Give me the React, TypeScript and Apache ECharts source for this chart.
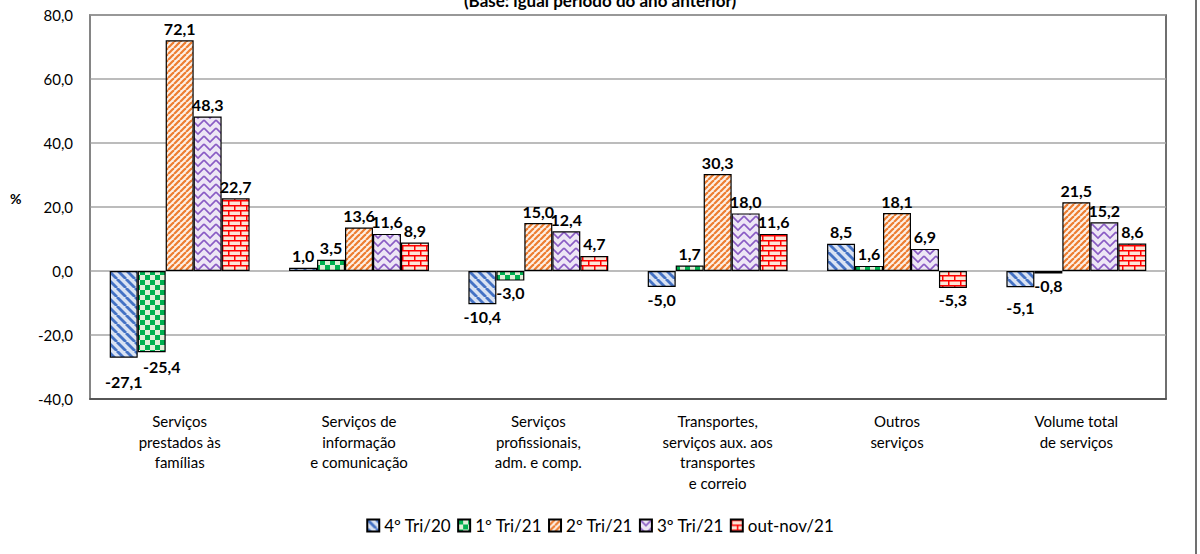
import React, { useEffect, useRef } from "react";
import * as echarts from "echarts";

const categories = [
  "Serviços\nprestados às\nfamílias",
  "Serviços de\ninformação\ne comunicação",
  "Serviços\nprofissionais,\nadm. e comp.",
  "Transportes,\nserviços aux. aos\ntransportes\ne correio",
  "Outros\nserviços",
  "Volume total\nde serviços",
];

const seriesNames = ["4º Tri/20", "1º Tri/21", "2º Tri/21", "3º Tri/21", "out-nov/21"];

const tri4_20 = [-27.1, 1.0, -10.4, -5.0, 8.5, -5.1];
const tri1_21 = [-25.4, 3.5, -3.0, 1.7, 1.6, -0.8];
const tri2_21 = [72.1, 13.6, 15.0, 30.3, 18.1, 21.5];
const tri3_21 = [48.3, 11.6, 12.4, 18.0, 6.9, 15.2];
const outNov21 = [22.7, 8.9, 4.7, 11.6, -5.3, 8.6];

const yTicks = { min: -40, max: 80, interval: 20 };
const titleText = "(Base: igual período do ano anterior)";
const yName = "%";

const FONT = "Lato, 'Noto Sans', sans-serif";

// manual label nudges seen in the reference: [seriesIndex, categoryIndex, dx, dy]
const labelNudges: [number, number, number, number][] = [
  [0, 0, 0, 12],
  [1, 0, 10, 2],
  [0, 5, 0, 8],
];

function makeCanvas(w: number, h: number, draw: (c: CanvasRenderingContext2D) => void) {
  const cv = document.createElement("canvas");
  cv.width = w;
  cv.height = h;
  const ctx = cv.getContext("2d")!;
  draw(ctx);
  return cv;
}

function patterns() {
  const blue = makeCanvas(9, 9, (c) => {
    c.fillStyle = "#dae3f3";
    c.fillRect(0, 0, 9, 9);
    c.strokeStyle = "#4472c4";
    c.lineWidth = 2.8;
    for (let k = -1; k <= 1; k++) {
      c.beginPath();
      c.moveTo(k * 9, 0);
      c.lineTo(k * 9 + 9, 9);
      c.stroke();
    }
  });
  const green = makeCanvas(10, 10, (c) => {
    c.fillStyle = "#e2f0d9";
    c.fillRect(0, 0, 10, 10);
    c.fillStyle = "#00b050";
    c.fillRect(0, 0, 5, 5);
    c.fillRect(5, 5, 5, 5);
  });
  const orange = makeCanvas(6, 6, (c) => {
    c.fillStyle = "#fdf0e6";
    c.fillRect(0, 0, 6, 6);
    c.strokeStyle = "#ed7d31";
    c.lineWidth = 2.2;
    for (let k = -1; k <= 1; k++) {
      c.beginPath();
      c.moveTo(k * 6, 6);
      c.lineTo(k * 6 + 6, 0);
      c.stroke();
    }
  });
  const purple = makeCanvas(12, 8, (c) => {
    c.fillStyle = "#ede6f5";
    c.fillRect(0, 0, 12, 8);
    c.strokeStyle = "#8a5cc4";
    c.lineWidth = 1.6;
    for (let r = -1; r <= 1; r++) {
      c.beginPath();
      c.moveTo(0, r * 8);
      c.lineTo(6, r * 8 + 6);
      c.lineTo(12, r * 8);
      c.stroke();
    }
  });
  const red = makeCanvas(12, 10, (c) => {
    c.fillStyle = "#fce4d6";
    c.fillRect(0, 0, 12, 10);
    c.strokeStyle = "#ff0000";
    c.lineWidth = 1.5;
    c.beginPath();
    c.moveTo(0, 0.75);
    c.lineTo(12, 0.75);
    c.moveTo(0, 5.75);
    c.lineTo(12, 5.75);
    c.moveTo(0.75, 0);
    c.lineTo(0.75, 5.75);
    c.moveTo(6.75, 5.75);
    c.lineTo(6.75, 10);
    c.stroke();
  });
  return [blue, green, orange, purple, red];
}

const fmt = (v: number) => v.toFixed(1).replace(".", ",");

export default function App() {
  const ref = useRef<HTMLDivElement>(null);
  useEffect(() => {
    if (!ref.current) return;
    const chart = echarts.init(ref.current, null, { renderer: "svg" });
    const pats = patterns();
    const data = [tri4_20, tri1_21, tri2_21, tri3_21, outNov21];
    chart.setOption({
      animation: false,
      textStyle: { fontFamily: FONT },
      grid: {
        left: 90,
        right: 34,
        top: 15,
        bottom: 155,
        show: true,
        borderColor: "#404040",
        borderWidth: 1.5,
      },
      legend: {
        top: 512,
        left: "center",
        icon: "rect",
        itemWidth: 12,
        itemHeight: 12,
        itemGap: 6,
        textStyle: { fontSize: 17, color: "#000", fontFamily: FONT },
        data: seriesNames,
      },
      xAxis: {
        type: "category",
        data: categories,
        axisLine: { onZero: false, lineStyle: { color: "#404040", width: 1.5 } },
        axisTick: { show: false },
        axisLabel: {
          interval: 0,
          fontSize: 15,
          lineHeight: 20.5,
          color: "#000",
          margin: 12,
          fontFamily: FONT,
        },
      },
      yAxis: {
        type: "value",
        min: yTicks.min,
        max: yTicks.max,
        interval: yTicks.interval,
        axisLine: { show: true, lineStyle: { color: "#8c8c8c", width: 1.5 } },
        axisTick: { show: false },
        splitLine: { lineStyle: { color: "#a6a6a6", width: 1.5 } },
        axisLabel: {
          formatter: (v: number) => fmt(v),
          fontSize: 15,
          color: "#000",
          margin: 17,
          fontFamily: FONT,
        },
      },
      graphic: [
        {
          type: "text",
          left: "center",
          top: -8,
          style: {
            text: titleText,
            font: `bold 17px ${FONT}`,
            fill: "#000",
          },
        },
        {
          type: "text",
          left: 10,
          top: 191,
          style: { text: yName, font: `bold 14px ${FONT}`, fill: "#000" },
        },
        {
          type: "line",
          shape: { x1: 1196, y1: 0, x2: 1196, y2: 554 },
          style: { stroke: "#404040", lineWidth: 1.5 },
        },
      ],
      series: seriesNames.map((name, i) => ({
        name,
        type: "bar",
        barGap: "0%",
        barCategoryGap: "22%",
        itemStyle: {
          color: { image: pats[i], repeat: "repeat" },
          borderColor: "#000",
          borderWidth: 1.2,
        },
        label: {
          show: true,
          formatter: (p: any) => fmt(p.value),
          fontSize: 16,
          fontWeight: "bold",
          color: "#000",
          fontFamily: FONT,
          distance: 4,
        },
        data: data[i].map((v, j) => {
          const n = labelNudges.find((x) => x[0] === i && x[1] === j);
          return {
            value: v,
            label: {
              position: v < 0 ? "bottom" : "top",
              offset: n ? [n[2], n[3]] : [0, 0],
            },
          };
        }),
      })),
    });
    return () => chart.dispose();
  }, []);
  return <div ref={ref} style={{ width: 1200, height: 554, position: "absolute", left: 0, top: 0 }} />;
}
